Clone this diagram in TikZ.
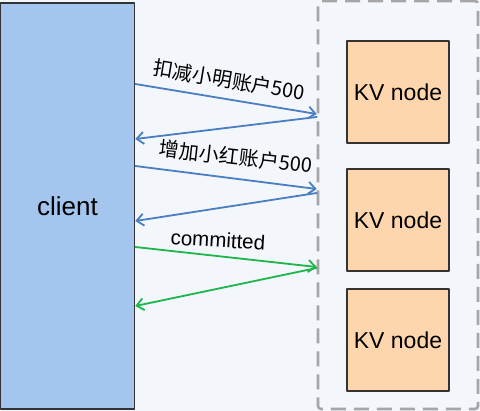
\documentclass[tikz,border=0pt]{standalone}
\usepackage{fontspec}
\setmainfont{Liberation Sans}
\newfontfamily\cjk{Noto Sans CJK SC}
\usepackage{tikz}
\usetikzlibrary{arrows.meta}
\definecolor{txbg}{HTML}{F3F6FB}
\definecolor{txclient}{HTML}{A4C6EE}
\definecolor{txkv}{HTML}{FED6AD}
\definecolor{txedge}{HTML}{333333}
\definecolor{txdash}{HTML}{A6A6A6}
\definecolor{txblue}{HTML}{4A7EC2}
\definecolor{txgreen}{HTML}{1DB54C}

\begin{document}
\begin{tikzpicture}[
  x=1pt, y=-1pt,
  line cap=round, line join=round,
  clientbox/.style={draw=txedge, line width=1.6pt, fill=txclient, minimum width=134pt,
                    minimum height=406pt, inner sep=0pt, font=\fontsize{26}{30}\selectfont},
  cluster/.style={draw=txdash, line width=2.6pt, dash pattern=on 15pt off 8pt,
                  line cap=butt, rounded corners=3pt, minimum width=160pt, minimum height=408pt},
  kvbox/.style={draw=txedge, line width=1.4pt, fill=txkv, minimum width=102pt,
                minimum height=102pt, inner sep=0pt, font=\fontsize{23}{26}\selectfont},
  msg/.style={-{Straight Barb[length=7pt, width=12pt, line width=1.8pt]}, line width=1.8pt},
  lbl/.style={inner sep=0pt, font=\cjk\fontsize{20}{24}\selectfont},
]
\useasboundingbox (0,0) rectangle (480,411);
\fill[txbg] (0,0) rectangle (480,411);

% client and the KV cluster
\node[clientbox] (client) at (67.5,206) {client};
\node[cluster] (cluster) at (398,205) {};
\node[kvbox] (kv1) at (398,92) {KV node};
\node[kvbox] (kv2) at (398,220) {KV node};
\node[kvbox] (kv3) at (398,340) {KV node};

% first write: deduct
\draw[msg, draw=txblue] (client.east |- 0,84) -- (cluster.west |- 0,114);
\draw[msg, draw=txblue] (cluster.west |- 0,117) -- (client.east |- 0,139);
\node[lbl, rotate=-9.5] (w1) at (229,80) {扣减小明账户500};

% second write: add
\draw[msg, draw=txblue] (client.east |- 0,166) -- (cluster.west |- 0,189);
\draw[msg, draw=txblue] (cluster.west |- 0,193) -- (client.east |- 0,221);
\node[lbl, rotate=-6.5] (w2) at (236,157) {增加小红账户500};

% commit
\draw[msg, draw=txgreen] (client.east |- 0,247) -- (cluster.west |- 0,267);
\draw[msg, draw=txgreen] (cluster.west |- 0,268) -- (client.east |- 0,306);
\node[lbl, font=\fontsize{20.5}{24}\selectfont, rotate=-3.5] (cm) at (218,240) {committed};
\end{tikzpicture}
\end{document}
